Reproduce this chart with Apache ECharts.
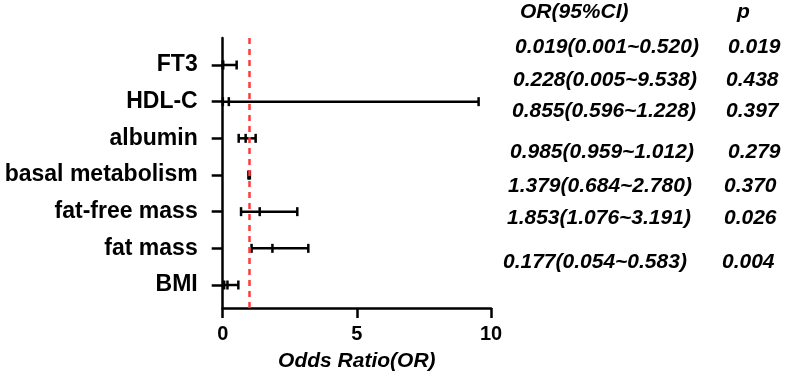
<!DOCTYPE html>
<html>
<head>
<meta charset="utf-8">
<script src="https://cdn.jsdelivr.net/npm/echarts@6/dist/echarts.min.js"></script>
<style>
html,body{margin:0;padding:0;background:#fff;}
#c{width:786px;height:381px;}
</style>
</head>
<body>
<div id="c"></div>
<script>
// ---- data (top to bottom) ----
var categories = ['FT3', 'HDL-C', 'albumin', 'basal metabolism', 'fat-free mass', 'fat mass', 'BMI'];
var orValues = [0.019, 0.228, 0.855, 0.985, 1.379, 1.853, 0.177];
var ciLow    = [0.001, 0.005, 0.596, 0.959, 0.684, 1.076, 0.054];
var ciHigh   = [0.520, 9.538, 1.228, 1.012, 2.780, 3.191, 0.583];
var pValues  = ['0.019', '0.438', '0.397', '0.279', '0.370', '0.026', '0.004'];
var xTicks = [0, 5, 10];
var refOR = 1;
var headerCI = 'OR(95%CI)';
var headerP = 'p';
var xTitle = 'Odds Ratio(OR)';

// ---- layout (style only) ----
var FONT = '"Liberation Sans", Arial, sans-serif';
var nRows = categories.length;
var rowPos = categories.map(function (c, i) { return nRows - i; }); // FT3 at top
var ciTextX = [515, 513, 512, 510, 508, 507, 503];
var pTextX  = [728, 726, 726, 728, 724, 724, 722];
var textY   = [47, 80, 111, 152, 186, 218, 262];

var chart = echarts.init(document.getElementById('c'), null, {renderer: 'canvas'});

var barData = categories.map(function (c, i) {
  return [ciLow[i], ciHigh[i], orValues[i], rowPos[i]];
});

var graphics = [];
graphics.push({type: 'text', left: 520, top: 2, style: {text: headerCI, font: 'italic bold 21px ' + FONT, fill: '#000'}});
graphics.push({type: 'text', left: 737, top: 2, style: {text: headerP, font: 'italic bold 21px ' + FONT, fill: '#000'}});
categories.forEach(function (c, i) {
  var s = orValues[i].toFixed(3) + '(' + ciLow[i].toFixed(3) + '~' + ciHigh[i].toFixed(3) + ')';
  graphics.push({type: 'text', x: ciTextX[i], y: textY[i], style: {text: s, font: 'italic bold 21px ' + FONT, fill: '#000', verticalAlign: 'middle'}});
  graphics.push({type: 'text', x: pTextX[i], y: textY[i], style: {text: pValues[i], font: 'italic bold 21px ' + FONT, fill: '#000', verticalAlign: 'middle'}});
});

var option = {
  animation: false,
  backgroundColor: '#fff',
  grid: {left: 222.7, right: 295, top: 38, bottom: 73},
  xAxis: {
    type: 'value', min: xTicks[0], max: xTicks[xTicks.length - 1], interval: 5,
    axisLine: {show: true, onZero: false, lineStyle: {color: '#000', width: 2.5}},
    axisTick: {show: true, length: 10, lineStyle: {color: '#000', width: 2.5}},
    axisLabel: {color: '#000', fontSize: 20, fontWeight: 'bold', fontFamily: FONT, margin: 16},
    splitLine: {show: false},
    name: xTitle, nameLocation: 'middle', nameGap: 43,
    nameTextStyle: {color: '#000', fontSize: 21, fontWeight: 'bold', fontStyle: 'italic', fontFamily: FONT}
  },
  yAxis: {
    type: 'value', min: 0.373, max: 7.736,
    axisLine: {show: true, onZero: false, lineStyle: {color: '#000', width: 2.5}},
    axisTick: {show: true, length: 11, customValues: rowPos, lineStyle: {color: '#000', width: 2.5}},
    axisLabel: {
      show: true, customValues: rowPos, margin: 25,
      color: '#000', fontSize: 23, fontWeight: 'bold', fontFamily: FONT,
      formatter: function (v) { return categories[nRows - Math.round(v)]; }
    },
    splitLine: {show: false}
  },
  series: [
    {
      type: 'line', data: [], z: 1, silent: true,
      markLine: {
        symbol: 'none', silent: true, label: {show: false},
        lineStyle: {color: '#ff3b3b', width: 2.5, type: [6, 5]},
        data: [{xAxis: refOR}]
      }
    },
    {
      type: 'custom', z: 3,
      encode: {x: [0, 1, 2], y: 3},
      data: barData,
      renderItem: function (params, api) {
        var y = api.value(3);
        var a = api.coord([api.value(0), y]);
        var b = api.coord([api.value(1), y]);
        var m = api.coord([api.value(2), y]);
        var h = 4.5;
        var st = {stroke: '#000', lineWidth: 2.5, fill: null};
        return {
          type: 'group',
          children: [
            {type: 'line', shape: {x1: a[0], y1: a[1], x2: b[0], y2: b[1]}, style: st},
            {type: 'line', shape: {x1: a[0], y1: a[1] - h, x2: a[0], y2: a[1] + h}, style: st},
            {type: 'line', shape: {x1: b[0], y1: b[1] - h, x2: b[0], y2: b[1] + h}, style: st},
            {type: 'line', shape: {x1: m[0], y1: m[1] - h, x2: m[0], y2: m[1] + h}, style: st}
          ]
        };
      }
    }
  ],
  graphic: graphics
};
chart.setOption(option);
</script>
</body>
</html>
